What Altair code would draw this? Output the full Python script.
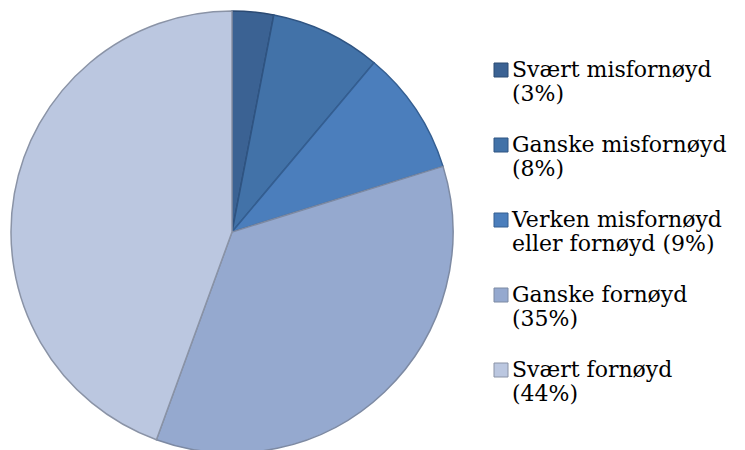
import altair as alt
import pandas as pd

categories = ["Svært misfornøyd", "Ganske misfornøyd", "Verken misfornøyd eller fornøyd",
              "Ganske fornøyd", "Svært fornøyd"]
labels = ["Svært misfornøyd|(3%)", "Ganske misfornøyd|(8%)", "Verken misfornøyd|eller fornøyd (9%)",
          "Ganske fornøyd|(35%)", "Svært fornøyd|(44%)"]
values = [3, 8, 9, 35, 44]
fills = ["#3b6293", "#4272a8", "#4b7ebc", "#95a9cf", "#bbc7e0"]
strokes = ["#2b4a73", "#2f5482", "#345e91", "#7d8aa3", "#8a93a6"]

df = pd.DataFrame({"label": labels, "value": values, "order": list(range(len(values)))})

chart = alt.Chart(df).mark_arc(radius=221, strokeWidth=1.5).encode(
    theta=alt.Theta("value:Q", stack=True),
    order=alt.Order("order:Q"),
    x=alt.value(223),
    y=alt.value(224),
    fill=alt.Fill("label:N", scale=alt.Scale(domain=labels, range=fills),
                  legend=alt.Legend(title=None, orient="none", legendX=481, legendY=51,
                                    labelExpr="split(datum.label, '|')",
                                    labelFont="DejaVu Serif", labelFontSize=22,
                                    labelColor="#000000", labelLimit=400,
                                    symbolType="square", symbolSize=196,
                                    symbolStrokeColor="#6f7f99", symbolStrokeWidth=1,
                                    rowPadding=29, labelOffset=0, padding=0)),
    stroke=alt.Stroke("label:N", scale=alt.Scale(domain=labels, range=strokes), legend=None),
).properties(width=446, height=430, padding=0).configure_view(stroke=None)

chart.save("out.html", embed_options={"renderer": "svg", "actions": False})
